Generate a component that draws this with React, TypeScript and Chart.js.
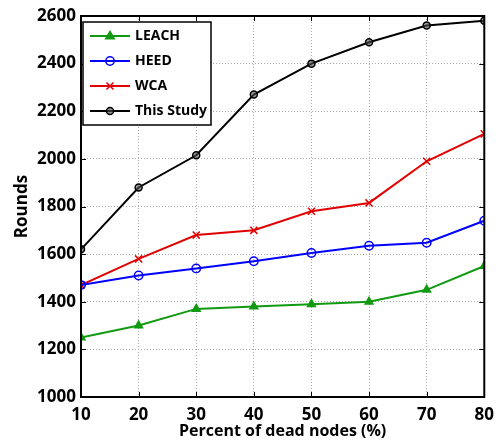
import React, { useEffect, useRef } from "react";
import { Chart, registerables } from "chart.js";

Chart.register(...registerables);

const xValues = [10, 20, 30, 40, 50, 60, 70, 80];
const leach = [1250, 1300, 1370, 1380, 1390, 1400, 1450, 1550];
const heed = [1470, 1510, 1540, 1570, 1605, 1635, 1648, 1740];
const wca = [1470, 1580, 1680, 1700, 1780, 1815, 1990, 2105];
const thisStudy = [1620, 1880, 2015, 2270, 2400, 2490, 2560, 2580];
const seriesNames = ["LEACH", "HEED", "WCA", "This Study"];
const xTitle = "Percent of dead nodes (%)";
const yTitle = "Rounds";

const FONT = "'Open Sans', 'Liberation Sans', sans-serif";

function marker(ctx: CanvasRenderingContext2D, ds: any, x: number, y: number) {
  const r = ds.pointRadius;
  ctx.save();
  ctx.strokeStyle = ds.pointBorderColor;
  ctx.fillStyle = ds.pointBackgroundColor;
  ctx.lineWidth = ds.pointBorderWidth;
  ctx.beginPath();
  if (ds.pointStyle === "triangle") {
    ctx.moveTo(x, y - r);
    ctx.lineTo(x + r * 0.95, y + r * 0.6);
    ctx.lineTo(x - r * 0.95, y + r * 0.6);
    ctx.closePath();
    ctx.fill();
    ctx.stroke();
  } else if (ds.pointStyle === "circle") {
    ctx.arc(x, y, r, 0, Math.PI * 2);
    ctx.fill();
    ctx.stroke();
  } else {
    const d = r * 0.7;
    ctx.moveTo(x - d, y - d);
    ctx.lineTo(x + d, y + d);
    ctx.moveTo(x + d, y - d);
    ctx.lineTo(x - d, y + d);
    ctx.stroke();
  }
  ctx.restore();
}

const boxPlugin = {
  id: "matlabBox",
  afterDraw(chart: any) {
    const { ctx, chartArea: a, scales } = chart;
    ctx.save();
    ctx.strokeStyle = "#000";
    ctx.lineWidth = 1;
    const tl = 5;
    scales.x.ticks.forEach((_t: any, i: number) => {
      const px = Math.round(scales.x.getPixelForTick(i)) + 0.5;
      ctx.beginPath();
      ctx.moveTo(px, a.bottom);
      ctx.lineTo(px, a.bottom - tl);
      ctx.moveTo(px, a.top);
      ctx.lineTo(px, a.top + tl);
      ctx.stroke();
    });
    scales.y.ticks.forEach((_t: any, i: number) => {
      const py = Math.round(scales.y.getPixelForTick(i)) + 0.5;
      ctx.beginPath();
      ctx.moveTo(a.left, py);
      ctx.lineTo(a.left + tl, py);
      ctx.moveTo(a.right, py);
      ctx.lineTo(a.right - tl, py);
      ctx.stroke();
    });
    ctx.lineWidth = 2;
    ctx.strokeRect(a.left, a.top, a.right - a.left, a.bottom - a.top);

    const lx = a.left + 2;
    const ly = a.top + 6;
    const lw = 128;
    const rowH = 25;
    const lh = 103;
    ctx.fillStyle = "#fff";
    ctx.fillRect(lx, ly, lw, lh);
    ctx.lineWidth = 1.5;
    ctx.strokeStyle = "#000";
    ctx.strokeRect(lx, ly, lw, lh);
    chart.data.datasets.forEach((ds: any, i: number) => {
      const cy = ly + 14 + i * rowH;
      ctx.strokeStyle = ds.borderColor;
      ctx.lineWidth = ds.borderWidth;
      ctx.beginPath();
      ctx.moveTo(lx + 7, cy);
      ctx.lineTo(lx + 47, cy);
      ctx.stroke();
      marker(ctx, ds, lx + 27, cy);
      ctx.fillStyle = "#000";
      ctx.font = `bold 14px ${FONT}`;
      ctx.textAlign = "left";
      ctx.textBaseline = "middle";
      ctx.fillText(ds.label, lx + 52, cy);
    });
    ctx.restore();
  },
};

export default function App() {
  const ref = useRef<HTMLCanvasElement>(null);
  useEffect(() => {
    if (!ref.current) return;
    const mk = (label: string, data: number[], color: string, style: string, fill: string, r: number) => ({
      label,
      data: xValues.map((x, i) => ({ x, y: data[i] })),
      borderColor: color,
      backgroundColor: fill,
      pointBackgroundColor: fill,
      pointBorderColor: color,
      borderWidth: 2,
      pointRadius: r,
      pointBorderWidth: 1.5,
      pointStyle: style,
      tension: 0,
    });
    const chart = new Chart(ref.current, {
      type: "line",
      data: {
        datasets: [
          mk(seriesNames[0], leach, "#119a11", "triangle", "#119a11", 4.5),
          mk(seriesNames[1], heed, "#0000ff", "circle", "rgba(255,255,255,0)", 4.2),
          mk(seriesNames[2], wca, "#e00000", "crossRot", "#e00000", 5),
          mk(seriesNames[3], thisStudy, "#000000", "circle", "rgba(80,80,80,0.6)", 3.5),
        ] as any,
      },
      options: {
        animation: false,
        responsive: false,
        layout: { padding: { top: 16, right: 14, left: 12, bottom: 0 } },
        plugins: { legend: { display: false }, tooltip: { enabled: false } },
        scales: {
          x: {
            type: "linear",
            min: 10,
            max: 80,
            afterFit: (s: any) => {
              s.height = 44;
            },
            ticks: {
              stepSize: 10,
              color: "#000",
              font: { family: FONT, size: 17, weight: "bold" },
              padding: 8,
              callback: (v: any) => String(v),
            },
            grid: { color: "#a8a8a8", drawTicks: false, lineWidth: 1 },
            border: { display: false, dash: [1, 2] } as any,
            title: {
              display: true,
              text: xTitle,
              color: "#000",
              font: { family: FONT, size: 16, weight: "bold" },
              padding: 0,
            },
          },
          y: {
            min: 1000,
            max: 2600,
            afterFit: (s: any) => {
              s.width = 69;
            },
            ticks: {
              stepSize: 200,
              color: "#000",
              font: { family: FONT, size: 17, weight: "bold" },
              padding: 5,
              callback: (v: any) => String(v),
            },
            grid: { color: "#a8a8a8", drawTicks: false, lineWidth: 1 },
            border: { display: false, dash: [1, 2] } as any,
            title: {
              display: true,
              text: yTitle,
              color: "#000",
              font: { family: FONT, size: 17, weight: "bold" },
              padding: 0,
            },
          },
        },
      } as any,
      plugins: [boxPlugin],
    });
    return () => chart.destroy();
  }, []);
  return (
    <div style={{ position: "fixed", left: 0, top: 0, width: 502, height: 441, background: "#fff" }}>
      <canvas ref={ref} width={502} height={441} />
    </div>
  );
}
